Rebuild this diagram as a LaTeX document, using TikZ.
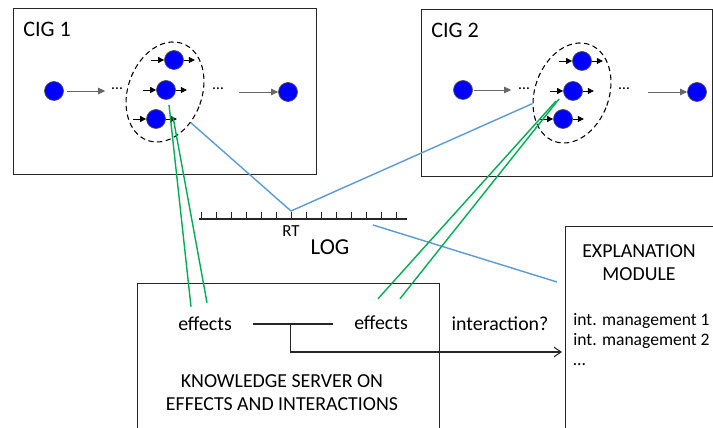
\documentclass[tikz,border=0pt]{standalone}
\usepackage{fontspec}
\setmainfont{Carlito}
\usetikzlibrary{arrows.meta, positioning, shapes.geometric, calc}
\definecolor{ink}{HTML}{262626}
\definecolor{cigblue}{HTML}{0000FF}
\definecolor{linkblue}{HTML}{5B9BD5}
\definecolor{linkgreen}{HTML}{00B050}

\begin{document}
\begin{tikzpicture}[x=0.02cm, y=-0.02cm,
  panel/.style={draw=ink, semithick, anchor=north west, inner sep=0pt},
  task/.style={circle, draw=ink!80, fill=cigblue, minimum size=0.38cm, inner sep=0pt},
  group/.style={ellipse, draw=black, densely dashed, semithick,
                minimum width=1.48cm, minimum height=2.06cm, rotate=-20},
  stub/.style={-{Triangle[length=1.2mm, width=1.2mm]}, thin},
  flow/.style={-{Triangle[length=1.4mm, width=1.3mm]}, draw=ink!70, thin},
  rtlink/.style={draw=linkblue, line width=0.8pt},
  efflink/.style={draw=linkgreen, line width=0.8pt},
  txt/.style={font=\fontsize{11.3}{13}\selectfont, inner sep=0pt},
  eff/.style={txt, inner xsep=0.42cm},
  dotsl/.style={font=\small, inner sep=0pt}
]
\useasboundingbox (0,0) rectangle (713,428);
\clip (0,0) rectangle (713,428);

% the two guidelines
\node[panel, minimum width=6.06cm, minimum height=3.32cm] (cig1) at (13,8) {};
\node[panel, minimum width=5.82cm, minimum height=3.34cm] (cig2) at (421,9) {};
\node[txt, font=\fontsize{12.6}{14}\selectfont, anchor=west] (cig1lbl) at (23,29) {CIG 1};
\node[txt, font=\fontsize{12.6}{14}\selectfont, anchor=west] (cig2lbl) at (431,30) {CIG 2};

\node[group] (g1) at (165,92) {};
\node[group] (g2) at (572,93) {};

\node[task] (c1a) at (54,91) {};
\node[task] (c1t) at (174,60) {};
\node[task] (c1b) at (166,90) {};
\node[task] (c1c) at (156,119) {};
\node[task] (c1z) at (288,92) {};
\node[task] (c2a) at (463,90) {};
\node[task] (c2t) at (582,61) {};
\node[task] (c2b) at (573,91) {};
\node[task] (c2c) at (563,119) {};
\node[task] (c2z) at (697,92) {};

\node[dotsl] (d1a) at (117,89) {\dots};
\node[dotsl] (d1b) at (218,89) {\dots};
\node[dotsl] (d2a) at (524,89) {\dots};
\node[dotsl] (d2b) at (624,89) {\dots};

\draw[flow, shorten <=0.07cm, shorten >=0.12cm] (c1a) -- (d1a.west |- c1a);
\draw[flow, shorten <=0.3cm] (d1b.east |- c1z) -- (c1z);
\draw[flow, shorten <=0.02cm, shorten >=0.14cm] (c2a) -- (d2a.west |- c2a);
\draw[flow, shorten <=0.36cm] (d2b.east |- c2z) -- (c2z);

\foreach \n in {c1t,c1b,c1c,c2t,c2b,c2c} {
  \draw[stub] ($(\n.west)+(-13,0)$) -- (\n.west);
  \draw[stub] (\n.east) -- ++(11,0);
}

% log with the time axis
\coordinate (logL) at (199,219);
\coordinate (logR) at (407,219);
\draw[ink, thick] (logL) -- (logR);
\foreach \k in {0,...,13}
  \draw[ink, thin] (201+15*\k,219) -- ++(0,-7);
\coordinate (rt) at (291,211);
\node[font=\fontsize{9.6}{10}\selectfont, inner sep=0pt] (rtlbl) at (291,231) {RT};
\node[font=\fontsize{13}{15}\selectfont, inner sep=0pt] (loglbl) at (330,247) {LOG};

% knowledge server and explanation module
\node[panel, minimum width=6.04cm, minimum height=3.4cm] (ks) at (137,283) {};
\node[panel, minimum width=3.2cm, minimum height=4.2cm] (expl) at (565,226) {};

\node[eff] (eff1) at (205,324) {effects};
\node[eff] (eff2) at (381,323) {effects};
\node[txt] (ask) at (500,324) {interaction?};
\node[txt, align=center] (kslbl) at (282,393) {KNOWLEDGE SERVER ON\\EFFECTS AND INTERACTIONS};
\node[txt, align=center] (explbl) at (639,263) {EXPLANATION\\MODULE};
\node[txt, align=left, anchor=north west, font=\fontsize{10}{11.4}\selectfont] (mgmt) at (573,313)
  {int. management 1\\int. management 2\\\dots};

\draw[ink, semithick] (eff1.east) -- (eff1.east -| eff2.west);
\coordinate (jn) at ($(eff1.east)!0.47!(eff2.west)$);
\coordinate (askin) at (562,352);
\draw[ink, semithick, -{Straight Barb[length=1.4mm, width=1.9mm]}] (jn |- eff1.east) |- (askin);

% links to the log
\draw[rtlink] (g1.-30) -- (rt);
\draw[rtlink] (g2.215) -- (rt);
\draw[rtlink] ($(logR)+(-34,6)$) -- ($(expl.north west)+(-8,56)$);

% links to the effects
\draw[efflink] ($(c1b.south)+(3,5)$) -- ($(eff1.north)+(-14,-10)$);
\draw[efflink] ($(c1b.south)+(7,17)$) -- ($(eff1.north)+(2,-14)$);
\draw[efflink] ($(c2b)+(-17,10)$) -- ($(eff2.north)+(-3,-17)$);
\draw[efflink] ($(c2b)+(-14,8)$) -- ($(eff2.north)+(19,-17)$);
\end{tikzpicture}
\end{document}
